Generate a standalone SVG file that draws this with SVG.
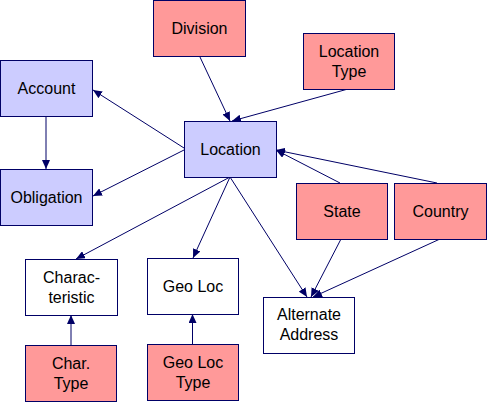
<svg xmlns="http://www.w3.org/2000/svg" width="487" height="402" viewBox="0 0 487 402">
<style>
.b{fill:#CCCCFF;stroke:#000066;stroke-width:1}
.p{fill:#FF9999;stroke:#000066;stroke-width:1}
.w{fill:#FFFFFF;stroke:#000066;stroke-width:1}
text{font-family:"Liberation Sans",Arial,sans-serif;font-size:16px;fill:#000000;text-anchor:middle}
.c line{stroke:#000066;stroke-width:1;fill:none;marker-end:url(#ah)}
</style>
<defs>
<marker id="ah" markerUnits="userSpaceOnUse" markerWidth="10" markerHeight="8" refX="9" refY="4" orient="auto">
<path d="M0,0 L9,4 L0,8 z" fill="#000066"/>
</marker>
</defs>
<rect width="487" height="402" fill="#FFFFFF"/>
<g class="c">
<line x1="199.5" y1="56" x2="230" y2="121"/>
<line x1="348" y1="89" x2="232" y2="121"/>
<line x1="184" y1="148" x2="93" y2="90"/>
<line x1="184" y1="150" x2="93" y2="196"/>
<line x1="46" y1="116" x2="46" y2="169"/>
<line x1="340" y1="183" x2="276" y2="150"/>
<line x1="437" y1="183" x2="276" y2="150"/>
<line x1="230" y1="177" x2="76" y2="259"/>
<line x1="230" y1="177" x2="193" y2="258"/>
<line x1="230" y1="177" x2="307" y2="297"/>
<line x1="341" y1="239" x2="311" y2="297"/>
<line x1="440" y1="239" x2="313" y2="297"/>
<line x1="71" y1="345" x2="71" y2="315"/>
<line x1="192.5" y1="344" x2="192.5" y2="314"/>
</g>
<g id="division"><rect class="p" x="153.5" y="0.5" width="92" height="56"/><text x="199.5" y="34">Division</text></g>
<g id="locationtype"><rect class="p" x="303.5" y="33.5" width="91" height="56"/><text x="349" y="57">Location</text><text x="349" y="77">Type</text></g>
<g id="account"><rect class="b" x="0.5" y="60.5" width="92" height="56"/><text x="46.5" y="94">Account</text></g>
<g id="obligation"><rect class="b" x="0.5" y="169.5" width="92" height="56"/><text x="46.5" y="203">Obligation</text></g>
<g id="location"><rect class="b" x="184.5" y="121.5" width="92" height="56"/><text x="230.5" y="155">Location</text></g>
<g id="state"><rect class="p" x="296.5" y="183.5" width="91" height="56"/><text x="342" y="217">State</text></g>
<g id="country"><rect class="p" x="394.5" y="183.5" width="92" height="56"/><text x="440.5" y="217">Country</text></g>
<g id="characteristic"><rect class="w" x="25.5" y="259.5" width="92" height="56"/><text x="71.5" y="283">Charac-</text><text x="71.5" y="303">teristic</text></g>
<g id="geoloc"><rect class="w" x="147.5" y="258.5" width="91" height="56"/><text x="193" y="292">Geo Loc</text></g>
<g id="alternateaddress"><rect class="w" x="263.5" y="297.5" width="91" height="56"/><text x="309" y="320">Alternate</text><text x="309" y="340">Address</text></g>
<g id="chartype"><rect class="p" x="25.5" y="345.5" width="91" height="56"/><text x="71" y="369">Char.</text><text x="71" y="389">Type</text></g>
<g id="geoloctype"><rect class="p" x="147.5" y="344.5" width="91" height="56"/><text x="193" y="368">Geo Loc</text><text x="193" y="388">Type</text></g>
</svg>
